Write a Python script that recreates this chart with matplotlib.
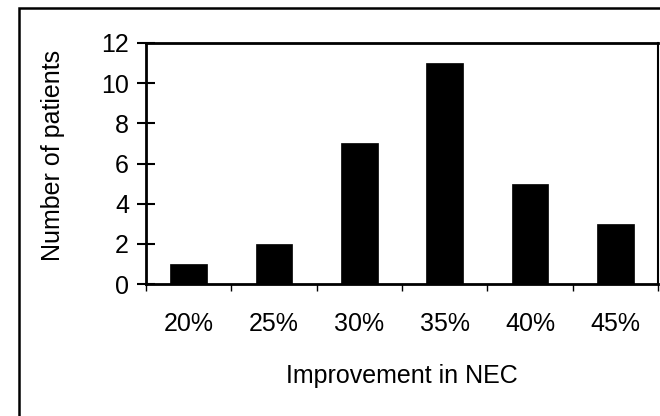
import matplotlib
matplotlib.use("Agg")
import matplotlib.pyplot as plt
from matplotlib.patches import Rectangle
import numpy as np

categories = ["20%", "25%", "30%", "35%", "40%", "45%"]
patients = [1, 2, 7, 11, 5, 3]
yticks = [0, 2, 4, 6, 8, 10, 12]

plt.rcParams['font.family'] = ['Liberation Sans', 'DejaVu Sans']

fig = plt.figure(figsize=(6.6, 4.16), dpi=100)
ax = fig.add_axes([146/660, 1-284/416, (658-146)/660, (284-43)/416])

x = np.arange(len(categories))
ax.bar(x, patients, width=0.43, color='black', edgecolor='black', linewidth=0.5)

ax.set_xlim(-0.5, len(categories) - 0.5)
ax.set_ylim(0, 12)
ax.set_yticks(yticks)
ax.set_yticklabels([str(v) for v in yticks], fontsize=18)
ax.set_xticks(x)
ax.set_xticklabels(categories, fontsize=18)
ax.tick_params(axis='x', which='major', length=0, pad=20)
ax.set_xticks(np.arange(len(categories) + 1) - 0.5, minor=True)
ax.tick_params(axis='x', which='minor', length=5, width=1, direction='out')
ax.tick_params(axis='y', length=12.5, width=1.5, direction='inout', pad=6)

for side in ['left', 'bottom']:
    ax.spines[side].set_linewidth(2)
ax.spines['top'].set_linewidth(2)
ax.spines['right'].set_linewidth(1.5)

ax.set_xlabel("Improvement in NEC", fontsize=18, va='baseline')
ax.xaxis.set_label_coords(0.5, -0.411)
ax.set_ylabel("Number of patients", fontsize=18, va='baseline')
ax.yaxis.set_label_coords(-0.168, 0.535)

fig.patches.append(Rectangle((19/660, -0.1), 1.2, 1 - 8/416 + 0.1, transform=fig.transFigure,
                             fill=False, edgecolor='black', linewidth=1.8))

fig.savefig("out.png", dpi=100)
